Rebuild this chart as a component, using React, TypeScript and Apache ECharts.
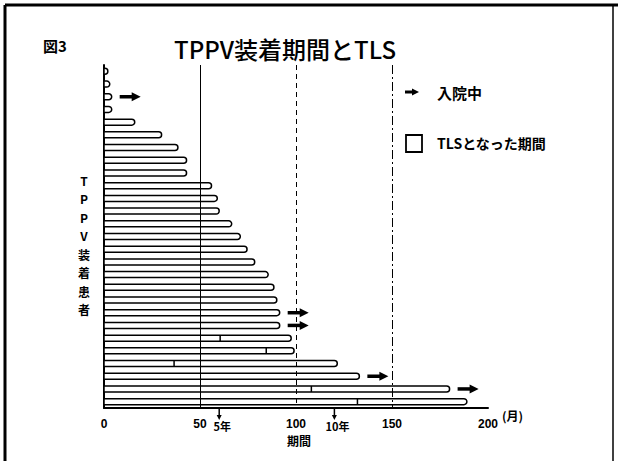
import React, { useEffect, useRef } from "react";
import * as echarts from "echarts";

// Patients, top to bottom
const patients = [
  "1","2","3","4","5","6","7","8","9","10","11","12","13","14","15","16","17","18","19","20","21","22","23","24","25","26","27",
];
// TPPV duration (months)
const months = [2, 3, 4, 4, 16, 30, 38.5, 43, 43, 56, 59, 60, 66.5, 71, 74.5, 78.5, 85.5, 88.5, 90, 91.5, 91.5, 97.5, 99, 121.5, 133, 180, 189];
// Month at which TLS began (null = none)
const tlsStart: (number | null)[] = [null, null, null, null, null, null, null, null, null, null, null, null, null, null, null, null, null, null, null, null, null, 60.5, 84.5, 36.5, null, 108, 132];
// Still hospitalised (arrow)
const inpatient = [0, 0, 1, 0, 0, 0, 0, 0, 0, 0, 0, 0, 0, 0, 0, 0, 0, 0, 0, 1, 1, 0, 0, 0, 1, 1, 0];

const xTicks = { min: 0, max: 200, interval: 50 };
const refLines = [50, 100, 150];
const yearMarks = [
  { value: 60, label: "5年" },
  { value: 120, label: "10年" },
];
const yAxisName = ["T", "P", "P", "V", "装", "着", "患", "者"];

const FONT = "'Noto Sans CJK JP', 'Liberation Sans', sans-serif";
const NUMFONT = "'Liberation Sans Narrow', 'Liberation Sans', sans-serif";

export default function App() {
  const ref = useRef<HTMLDivElement>(null);
  useEffect(() => {
    if (!ref.current) return;
    const chart = echarts.init(ref.current, null, { renderer: "svg" });
    const barData = patients.map((_, i) => [
      i,
      months[i],
      tlsStart[i] == null ? -1 : (tlsStart[i] as number),
      inpatient[i],
    ]);

    const option: any = {
      animation: false,
      backgroundColor: "#fff",
      grid: { left: 104, right: 130, top: 65, bottom: 53 },
      xAxis: {
        type: "value",
        min: xTicks.min,
        max: xTicks.max,
        interval: xTicks.interval,
        axisLine: { show: true, lineStyle: { color: "#000", width: 2 } },
        axisTick: { show: false },
        splitLine: { show: false },
        axisLabel: {
          color: "#000",
          fontFamily: NUMFONT,
          fontWeight: "bold",
          fontSize: 12,
          margin: 10,
        },
      },
      yAxis: {
        type: "category",
        data: patients,
        inverse: true,
        axisLine: { show: true, onZero: false, lineStyle: { color: "#000", width: 2 } },
        axisTick: { show: false },
        axisLabel: { show: false },
        splitLine: { show: false },
      },
      series: [
        {
          type: "line",
          data: [],
          z: 1,
          silent: true,
          markLine: {
            silent: true,
            symbol: "none",
            label: { show: false },
            data: refLines.map((v, k) => ({
              xAxis: v,
              lineStyle: {
                color: "#000",
                width: 1,
                type: k === 0 ? "solid" : k === 1 ? [5, 4] : [9, 3, 2, 3],
              },
            })),
          },
        },
        {
          type: "custom",
          z: 3,
          data: barData,
          encode: { x: 1, y: 0 },
          renderItem: (params: any, api: any) => {
            const idx = api.value(0);
            const end = api.value(1);
            const tls = api.value(2);
            const inp = api.value(3);
            const p0 = api.coord([0, idx]);
            const p1 = api.coord([end, idx]);
            const h = 6;
            const y = p0[1];
            const children: any[] = [
              {
                type: "rect",
                shape: { x: p0[0], y: y - h / 2, width: p1[0] - p0[0], height: h, r: [0, 3, 3, 0] },
                style: { fill: "#fff", stroke: "#000", lineWidth: 1.5 },
              },
            ];
            if (tls >= 0) {
              const pt = api.coord([tls, idx]);
              children.push({
                type: "line",
                shape: { x1: pt[0], y1: y - h / 2, x2: pt[0], y2: y + h / 2 },
                style: { stroke: "#000", lineWidth: 1.5 },
              });
            }
            if (inp) {
              const ax = p1[0] + 8;
              children.push({
                type: "line",
                shape: { x1: ax, y1: y, x2: ax + 13, y2: y },
                style: { stroke: "#000", lineWidth: 3.5 },
              });
              children.push({
                type: "polygon",
                shape: { points: [[ax + 12, y - 4.5], [ax + 21, y], [ax + 12, y + 4.5]] },
                style: { fill: "#000" },
              });
            }
            return { type: "group", children };
          },
        },
        {
          type: "custom",
          z: 4,
          data: yearMarks.map((m) => [m.value, 0, m.label]),
          encode: { x: 0 },
          renderItem: (params: any, api: any) => {
            const cs = params.coordSys;
            const x = api.coord([api.value(0), 0])[0];
            const y0 = cs.y + cs.height;
            const k = params.dataIndex;
            return {
              type: "group",
              children: [
                {
                  type: "line",
                  shape: { x1: x, y1: y0, x2: x, y2: y0 + 9 },
                  style: { stroke: "#000", lineWidth: 1.5 },
                },
                {
                  type: "polygon",
                  shape: { points: [[x - 2.5, y0 + 7], [x + 2.5, y0 + 7], [x, y0 + 12]] },
                  style: { fill: "#000" },
                },
                {
                  type: "text",
                  style: {
                    x: x + 3,
                    y: y0 + 18,
                    text: yearMarks[k].label,
                    fill: "#000",
                    font: `bold 11px ${FONT}`,
                    align: "center",
                    verticalAlign: "middle",
                  },
                },
              ],
            };
          },
        },
      ],
      graphic: [
        // frame
        { type: "line", shape: { x1: 5, y1: 5, x2: 618, y2: 5 }, style: { stroke: "#000", lineWidth: 3 } },
        { type: "line", shape: { x1: 5, y1: 5, x2: 5, y2: 461 }, style: { stroke: "#000", lineWidth: 3 } },
        { type: "line", shape: { x1: 613, y1: 5, x2: 613, y2: 461 }, style: { stroke: "#000", lineWidth: 1.5 } },
        {
          type: "text",
          style: { x: 43, y: 45, text: "図3", fill: "#000", font: `bold 15px ${FONT}`, verticalAlign: "middle" },
        },
        {
          type: "text",
          style: {
            x: 285,
            y: 48,
            text: "TPPV装着期間とTLS",
            fill: "#000",
            font: `500 24px ${FONT}`,
            align: "center",
            verticalAlign: "middle",
          },
        },
        // legend
        { type: "line", shape: { x1: 405, y1: 92, x2: 413, y2: 92 }, style: { stroke: "#000", lineWidth: 3 } },
        { type: "polygon", shape: { points: [[412, 88.5], [419, 92], [412, 95.5]] }, style: { fill: "#000" } },
        {
          type: "text",
          style: { x: 437, y: 92, text: "入院中", fill: "#000", font: `bold 15px ${FONT}`, verticalAlign: "middle" },
        },
        {
          type: "rect",
          shape: { x: 406, y: 135, width: 16, height: 17 },
          style: { fill: "#fff", stroke: "#000", lineWidth: 1.8 },
        },
        {
          type: "text",
          style: { x: 437, y: 143, text: "TLSとなった期間", fill: "#000", font: `bold 14px ${FONT}`, verticalAlign: "middle" },
        },
        // y-axis name (stacked)
        {
          type: "text",
          style: {
            x: 84,
            y: 171,
            text: yAxisName.join("\n"),
            fill: "#000",
            font: `bold 12px ${FONT}`,
            lineHeight: 18.5,
            align: "center",
            verticalAlign: "top",
          },
        },
        {
          type: "text",
          style: { x: 502, y: 415, text: "(月)", fill: "#000", font: `bold 12px ${FONT}`, verticalAlign: "middle" },
        },
        {
          type: "text",
          style: { x: 299, y: 440, text: "期間", fill: "#000", font: `bold 12px ${FONT}`, align: "center", verticalAlign: "middle" },
        },
      ],
    };
    chart.setOption(option);
    return () => chart.dispose();
  }, []);
  return (
    <div
      ref={ref}
      style={{ position: "fixed", left: 0, top: 0, width: 618, height: 461, background: "#fff" }}
    />
  );
}
